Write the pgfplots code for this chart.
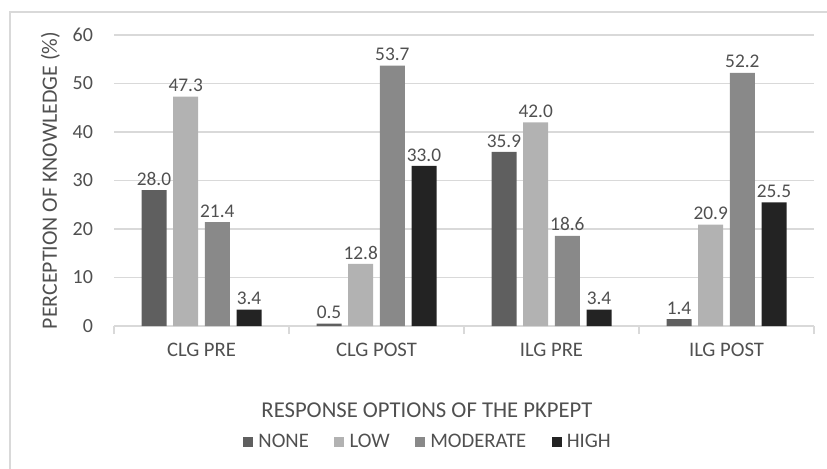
\documentclass[border=0pt]{standalone}
\usepackage{fontspec}
\setmainfont{Carlito}
\usepackage{pgfplots}
\pgfplotsset{compat=1.18}
\definecolor{cnone}{HTML}{5F5F5F}
\definecolor{clow}{HTML}{B2B2B2}
\definecolor{cmod}{HTML}{898989}
\definecolor{chigh}{HTML}{232323}
\definecolor{grid}{HTML}{D9D9D9}
\definecolor{txt}{HTML}{505050}
\pgfplotsset{ybar legend/.style={/pgfplots/legend image code/.code={\fill[##1,draw=none] (0pt,-3.6pt) rectangle (7.5pt,3.9pt);}}}
\begin{document}
\begin{tikzpicture}
\useasboundingbox (0pt,0pt) rectangle (620.25pt,351pt);
\draw[color=grid, line width=0.9pt] (7.5pt,-5pt) -- (7.5pt,342pt) -- (625pt,342pt);
\begin{axis}[
  at={(85.5pt,106.5pt)}, anchor=south west,
  scale only axis, width=525pt, height=218.25pt,
  ybar=5pt, bar width=18.75pt,
  xmin=-0.5, xmax=3.5, ymin=0, ymax=60,
  xtick=data, xticklabels={CLG PRE, CLG POST, ILG PRE, ILG POST},
  minor xtick={-0.5,0.5,1.5,2.5,3.5},
  ytick={0,10,...,60},
  axis x line*=bottom, axis y line*=left,
  y axis line style={draw=none},
  x axis line style={draw=grid, line width=0.9pt, -},
  ymajorgrids, grid style={draw=grid, line width=0.9pt},
  major x tick style={draw=none},
  major y tick style={draw=none},
  minor x tick style={draw=grid, line width=0.9pt},
  minor tick length=6pt, tick align=outside,
  xtick pos=bottom,
  /pgf/number format/assume math mode=true,
  ticklabel style={text=txt},
  yticklabel style={font=\fontsize{15}{17}\selectfont, xshift=-8pt},
  xticklabel style={font=\fontsize{15.5}{17}\selectfont, yshift=-5pt},
  ylabel={PERCEPTION OF KNOWLEDGE (\%)},
  ylabel style={at={(axis description cs:-0.091,0.5)}, anchor=center, font=\fontsize{16.4}{18}\selectfont, text=txt},
  xlabel={RESPONSE OPTIONS OF THE PKPEPT},
  xlabel style={at={(axis description cs:0.447,-0.289)}, anchor=center, font=\fontsize{17}{19}\selectfont, text=txt},
  nodes near coords,
  nodes near coords style={font=\fontsize{14.5}{16}\selectfont, text=txt, /pgf/number format/.cd, fixed, fixed zerofill, precision=1, assume math mode=true},
  legend columns=4,
  legend style={draw=none, fill=none, at={(axis description cs:0.449,-0.399)}, anchor=center, font=\fontsize{15.5}{17}\selectfont, text=txt,
    /tikz/every odd column/.append style={column sep=2pt},
    /tikz/every even column/.append style={column sep=17pt}},
  legend cell align=left,
]
\addplot[fill=cnone, draw=none] coordinates {(0,28.0) (1,0.5) (2,35.9) (3,1.4)};
\addplot[fill=clow, draw=none] coordinates {(0,47.3) (1,12.8) (2,42.0) (3,20.9)};
\addplot[fill=cmod, draw=none] coordinates {(0,21.4) (1,53.7) (2,18.6) (3,52.2)};
\addplot[fill=chigh, draw=none] coordinates {(0,3.4) (1,33.0) (2,3.4) (3,25.5)};
\legend{NONE, LOW, MODERATE, HIGH}
\end{axis}
\end{tikzpicture}
\end{document}
